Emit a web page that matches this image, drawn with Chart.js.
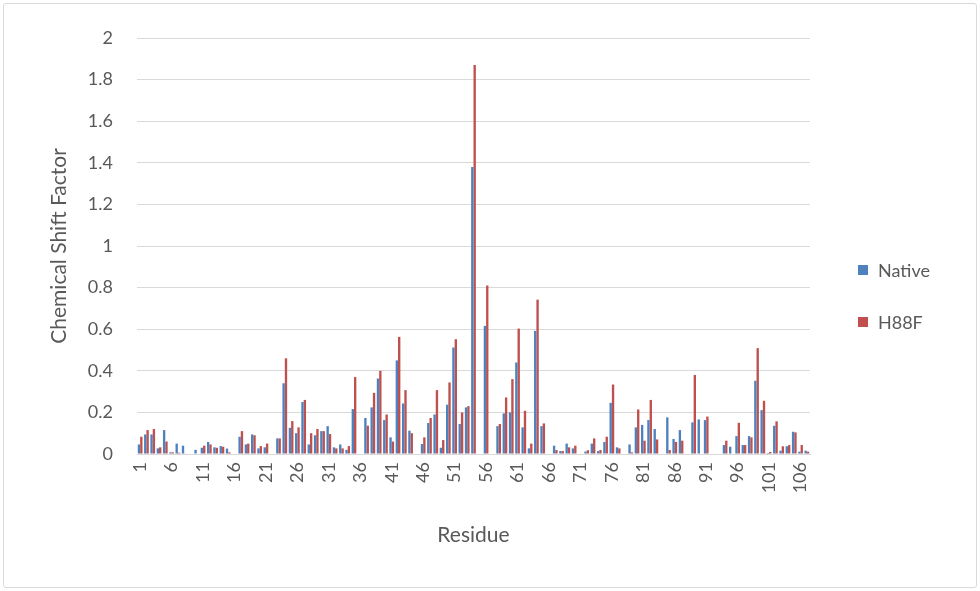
<!DOCTYPE html>
<html>
<head>
<meta charset="utf-8">
<script src="https://cdn.jsdelivr.net/npm/chart.js@4.4.1/dist/chart.umd.min.js"></script>
<style>
  html, body { margin: 0; padding: 0; background: #fff; }
  #wrap { position: relative; width: 980px; height: 591px; }
  #frame { position: absolute; left: 3px; top: 3px; width: 972px; height: 583px;
           border: 1px solid #d9d9d9; border-radius: 3px; pointer-events: none; }
  #legend { position: absolute; left: 858px; top: 258px; font-family: Lato, sans-serif;
            font-size: 18px; color: #595959; }
  .item { display: flex; align-items: center; height: 24px; margin-bottom: 28px; }
  .swatch { width: 10px; height: 10px; margin-right: 10px; }
</style>
</head>
<body>
<div id="wrap">
  <canvas id="shiftChart"></canvas>
  <div id="legend"></div>
  <div id="frame"></div>
</div>
<script>
// residue numbers 1..107
const residues = [];
for (let i = 1; i <= 107; i++) residues.push(String(i));

const seriesNames = ["Native", "H88F"];
const seriesColors = ["#4F81BD", "#C0504D"];

// chemical shift factor (0 = no bar)
const nativeValues = [
  0.046, 0.094, 0.094, 0.027, 0.115, 0.008, 0.05, 0.04, 0, 0.02,
  0.03, 0.058, 0.032, 0.038, 0.026, 0, 0.083, 0.046, 0.094, 0.027,
  0.032, 0, 0.075, 0.34, 0.126, 0.10, 0.25, 0.046, 0.09, 0.11,
  0.134, 0.032, 0.046, 0.02, 0.216, 0, 0.173, 0.224, 0.363, 0.163,
  0.08, 0.45, 0.243, 0.112, 0, 0.048, 0.149, 0.19, 0.03, 0.237,
  0.512, 0.144, 0.224, 1.38, 0, 0.616, 0, 0.134, 0.195, 0.20,
  0.44, 0.128, 0.027, 0.592, 0.134, 0, 0.04, 0.014, 0.05, 0.027,
  0, 0.012, 0.05, 0.014, 0.058, 0.246, 0.032, 0, 0.046, 0.128,
  0.14, 0.163, 0.12, 0, 0.176, 0.072, 0.115, 0, 0.152, 0.166,
  0.163, 0, 0, 0.043, 0.035, 0.086, 0.043, 0.086, 0.352, 0.211,
  0.005, 0.136, 0.016, 0.037, 0.107, 0.011, 0.016
];
const h88fValues = [
  0.083, 0.115, 0.12, 0.032, 0.06, 0.008, 0.006, 0.003, 0, 0,
  0.04, 0.046, 0.03, 0.035, 0.008, 0, 0.11, 0.05, 0.09, 0.038,
  0.05, 0, 0.075, 0.46, 0.158, 0.128, 0.26, 0.10, 0.12, 0.11,
  0.096, 0.027, 0.027, 0.038, 0.37, 0, 0.136, 0.294, 0.40, 0.19,
  0.06, 0.563, 0.307, 0.10, 0, 0.08, 0.173, 0.307, 0.067, 0.344,
  0.552, 0.20, 0.23, 1.87, 0, 0.81, 0, 0.144, 0.272, 0.36,
  0.603, 0.208, 0.05, 0.742, 0.147, 0, 0.019, 0.014, 0.032, 0.04,
  0, 0.018, 0.075, 0.019, 0.083, 0.334, 0.027, 0, 0.008, 0.214,
  0.064, 0.26, 0.07, 0, 0.019, 0.058, 0.064, 0, 0.38, 0,
  0.18, 0, 0, 0.064, 0, 0.15, 0.043, 0.08, 0.509, 0.256,
  0.01, 0.157, 0.037, 0.043, 0.104, 0.043, 0.011
];

const yMin = 0, yMax = 2, yStep = 0.2;

Chart.defaults.font.family = "Lato, sans-serif";
Chart.defaults.color = "#595959";

const ctx = document.getElementById("shiftChart").getContext("2d");
new Chart(ctx, {
  type: "bar",
  data: {
    labels: residues,
    datasets: [
      { label: seriesNames[0], data: nativeValues, backgroundColor: seriesColors[0] },
      { label: seriesNames[1], data: h88fValues, backgroundColor: seriesColors[1] },
    ],
  },
  options: {
    responsive: true,
    maintainAspectRatio: false,
    animation: false,
    layout: { padding: { top: 38, right: 170, bottom: 0, left: 0 } },
    datasets: { bar: { categoryPercentage: 0.75, barPercentage: 1.0 } },
    plugins: { legend: { display: false }, tooltip: { enabled: false } },
    scales: {
      x: {
        grid: { display: false, drawTicks: false },
        border: { display: true, color: "#d9d9d9" },
        ticks: {
          autoSkip: false,
          minRotation: 90,
          maxRotation: 90,
          padding: 8,
          font: { size: 18 },
          callback: (val, i) => (i % 5 === 0 ? residues[i] : ""),
        },
        title: { display: true, text: "Residue", font: { size: 21 }, padding: { top: 0, bottom: 43 } },
        afterFit: (s) => { s.height = 137; },
      },
      y: {
        min: yMin,
        max: yMax,
        grid: { color: "#d9d9d9", drawTicks: false },
        border: { display: false },
        ticks: {
          stepSize: yStep,
          padding: 24,
          font: { size: 18 },
          callback: (v) => String(Number(v.toFixed(1))),
        },
        title: { display: true, text: "Chemical Shift Factor", font: { size: 21 }, padding: { top: 47, bottom: 0 } },
        afterFit: (s) => { s.width = 137; },
      },
    },
  },
});

// legend
const legend = document.getElementById("legend");
seriesNames.forEach((name, i) => {
  const item = document.createElement("div");
  item.className = "item";
  item.innerHTML = '<span class="swatch" style="background:' + seriesColors[i] + '"></span>' + name;
  legend.appendChild(item);
});
</script>
</body>
</html>
